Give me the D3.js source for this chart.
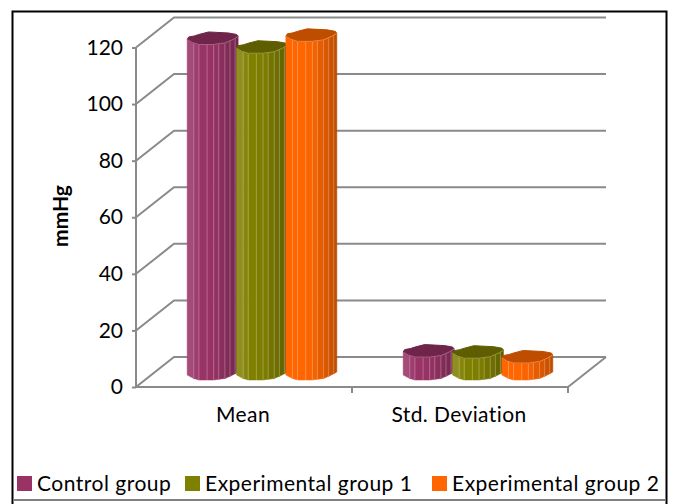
<!DOCTYPE html>
<html>
<head>
<meta charset="utf-8">
<script src="https://cdn.jsdelivr.net/npm/d3@7"></script>
<style>
  html, body { margin: 0; padding: 0; background: #fff; }
  text { font-family: Lato, "Open Sans", sans-serif; fill: #000; }
</style>
</head>
<body>
<div id="chart"></div>
<script>
var categories = ['Mean', 'Std. Deviation'];
var seriesNames = ['Control group', 'Experimental group 1', 'Experimental group 2'];
var controlGroup = [118.6, 8.1];
var experimental1 = [115.5, 7.7];
var experimental2 = [119.7, 6];
var tickValues = [0, 20, 40, 60, 80, 100, 120];

var colors = ['#993366', '#808000', '#ff6600'];
var topColors = ['#6e2549', '#5e5e00', '#bf4d00'];
var seriesValues = [controlGroup, experimental1, experimental2];

var width = 673, height = 504;
var depthX = 38, depthY = -30;   // wall offset of the fake 3d box

var svg = d3.select('#chart').append('svg')
    .attr('width', width)
    .attr('height', height)
    .style('display', 'block');

// border of the picture, open at the bottom
svg.append('path')
    .attr('d', 'M12.5,504V11.5H666.5V504')
    .attr('fill', 'none').attr('stroke', '#000').attr('stroke-width', 2);
svg.append('line').attr('x1', 13).attr('x2', 666).attr('y1', 500).attr('y2', 500)
    .attr('stroke', '#808080').attr('stroke-width', 2);

var x = d3.scaleBand().domain(categories).range([136, 568]);
var y = d3.scaleLinear().domain([0, 120]).range([387, 47.5]);

// back wall gridlines and floor
var grid = svg.append('g').attr('stroke', '#8a8a8a').attr('stroke-width', 2).attr('fill', 'none');
grid.selectAll('path.wall')
    .data(tickValues)
    .enter()
    .append('path')
    .attr('class', 'wall')
    .attr('d', function (d) {
        return 'M136,' + y(d) + 'L' + (136 + depthX) + ',' + (y(d) + depthY) + 'H' + (568 + depthX);
    });
grid.append('path')
    .attr('d', 'M568,387L' + (568 + depthX) + ',' + (387 + depthY));

var yAxis = d3.axisLeft(y).tickValues(tickValues).tickSize(4).tickPadding(9);
var yG = svg.append('g').attr('transform', 'translate(136,0)').call(yAxis);
yG.selectAll('line, path').attr('stroke', '#8a8a8a').attr('stroke-width', 2);
yG.select('.domain').attr('d', 'M0,' + y(120) + 'V' + y(0));
yG.selectAll('text').style('font-size', '21px').attr('fill', '#000');

var xAxis = d3.axisBottom(x).tickValues([]).tickSize(0);
var xG = svg.append('g').attr('transform', 'translate(0,387)').call(xAxis);
xG.select('.domain').attr('d', 'M136,0H568').attr('stroke', '#8a8a8a').attr('stroke-width', 2);
xG.selectAll('line.sep')
    .data([352, 568])
    .enter()
    .append('line')
    .attr('class', 'sep')
    .attr('x1', function (d) { return d; })
    .attr('x2', function (d) { return d; })
    .attr('y1', 0).attr('y2', 6)
    .attr('stroke', '#8a8a8a').attr('stroke-width', 2);

svg.selectAll('text.cat')
    .data(categories)
    .enter()
    .append('text')
    .attr('class', 'cat')
    .attr('x', function (d) { return x(d) + x.bandwidth() / 2 - 1; })
    .attr('y', 422)
    .attr('text-anchor', 'middle')
    .style('font-size', '21px')
    .style('letter-spacing', '0.4px')
    .text(function (d) { return d; });

svg.append('text')
    .attr('transform', 'translate(68,216) rotate(-90)')
    .attr('text-anchor', 'middle')
    .style('font-size', '21px')
    .style('font-weight', 'bold')
    .text('mmHg');

// bars: wavy prism, sits half way into the box
var inner = d3.scaleBand().domain(seriesNames).range([-74, 74]);
var barWidth = 51;
var baseY = 375;
var profile = [[0, 0], [0.1, 3], [0.23, 5], [0.52, 5], [0.74, 3.5], [0.9, 0], [1, -3]];
var backEdge = [[0, 0], [0.03, -2.5], [0.14, -3.5], [0.23, -5], [0.42, -7.5], [0.81, -6.5], [0.97, -5], [1, -3]];
var facets = [0, 0.13, 0.23, 0.39, 0.52, 0.62, 0.74, 0.84, 0.94, 1];
var facetShade = [-0.12, -0.05, 0, 0.02, 0.04, 0.1, 0.15, 0.2, 0.25];

function frontAt(u) {
    for (var k = 1; k < profile.length; k++) {
        if (u <= profile[k][0]) {
            var t = (u - profile[k - 1][0]) / (profile[k][0] - profile[k - 1][0]);
            return profile[k - 1][1] + t * (profile[k][1] - profile[k - 1][1]);
        }
    }
    return profile[profile.length - 1][1];
}

function drawBar(g, value, i) {
    var left = inner(seriesNames[i]) + inner.bandwidth() / 2 - barWidth / 2;
    var topY = baseY - (y(0) - y(value));
    var base = d3.color(colors[i]);
    var px = function (u) { return left + u * barWidth; };
    var line = d3.line().x(function (p) { return px(p[0]); })
        .y(function (p) { return p[1]; }).curve(d3.curveLinearClosed);

    // strips across the front of the prism, each with a pale edge
    facetShade.forEach(function (shade, s) {
        var u0 = facets[s], u1 = facets[s + 1];
        // orange stays flat on its lit side, the others get a lighter edge
        var c = shade < 0
            ? (i === 2 ? colors[i] : d3.interpolateRgb(base, '#fff')(-shade))
            : d3.interpolateRgb(base, '#000')(shade);
        var f0 = frontAt(u0), f1 = frontAt(u1);
        g.append('path')
            .attr('d', 'M' + px(u0) + ',' + (topY + f0) + 'L' + px(u1) + ',' + (topY + f1)
                + 'V' + (baseY + f1) + 'L' + px(u0) + ',' + (baseY + f0) + 'Z')
            .attr('fill', c)
            .attr('stroke', c)
            .attr('stroke-width', 0.5);
        if (s > 0) {
            g.append('line')
                .attr('x1', px(u0)).attr('x2', px(u0))
                .attr('y1', topY + f0).attr('y2', baseY + f0)
                .attr('stroke', d3.interpolateRgb(c, '#fff')(0.28))
                .attr('stroke-width', 1);
        }
    });

    // top cap
    var capPts = profile.map(function (p) { return [p[0], topY + p[1]]; })
        .concat(backEdge.slice(1, -1).reverse().map(function (p) { return [p[0], topY + p[1]]; }));
    g.append('path')
        .attr('d', line(capPts))
        .attr('fill', topColors[i])
        .attr('stroke', topColors[i])
        .attr('stroke-width', 1)
        .attr('stroke-linejoin', 'round');
    g.append('path')
        .attr('d', d3.line().x(function (p) { return px(p[0]); })
            .y(function (p) { return topY + p[1]; })(profile))
        .attr('fill', 'none')
        .attr('stroke', d3.interpolateRgb(colors[i], '#fff')(0.3))
        .attr('stroke-width', 0.8);
}

categories.forEach(function (cat, c) {
    var group = svg.append('g')
        .attr('transform', 'translate(' + (x(cat) + x.bandwidth() / 2 + depthX / 2 - 1) + ',0)');
    seriesNames.forEach(function (name, i) {
        drawBar(group.append('g'), seriesValues[i][c], i);
    });
});

// legend
var legendX = [17, 185, 432];
var legend = svg.selectAll('g.leg')
    .data(seriesNames)
    .enter()
    .append('g')
    .attr('class', 'leg')
    .attr('transform', function (d, i) { return 'translate(' + legendX[i] + ',476)'; });
legend.append('rect')
    .attr('width', 15).attr('height', 15)
    .attr('fill', function (d, i) { return colors[i]; });
legend.append('text')
    .attr('x', 20)
    .attr('y', 15)
    .style('font-size', '21px')
    .style('letter-spacing', '0.5px')
    .text(function (d) { return d; });
</script>
</body>
</html>
